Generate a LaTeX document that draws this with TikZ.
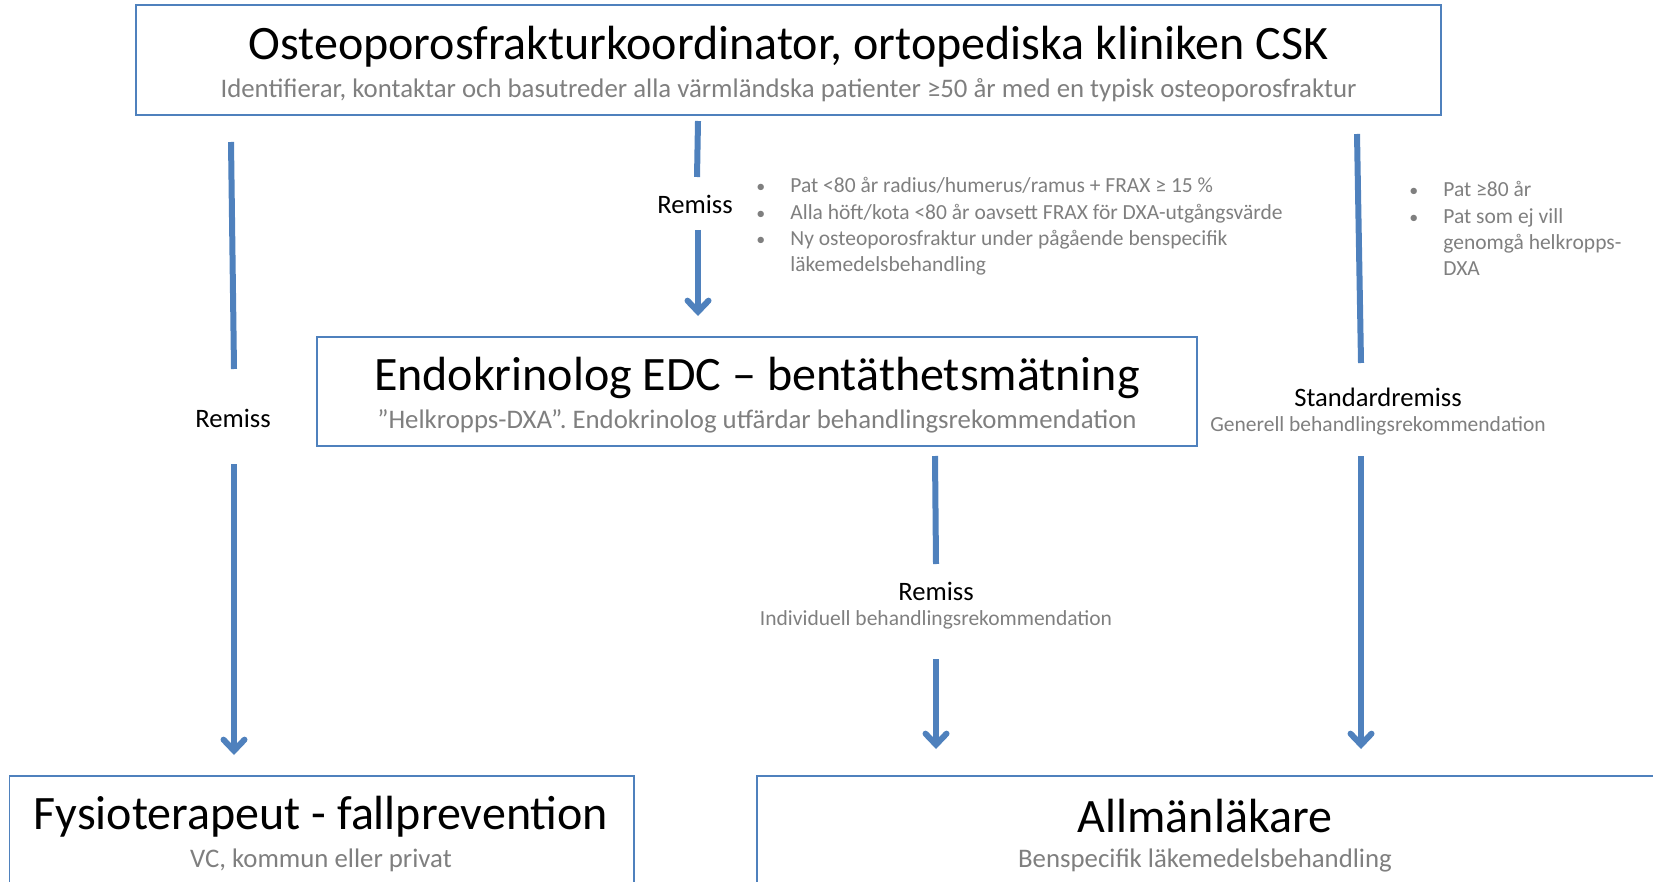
\documentclass[tikz,border=0pt]{standalone}
\usepackage{fontspec}
\setmainfont{Carlito}
\usetikzlibrary{arrows.meta}

\definecolor{offblue}{RGB}{79,129,189}
\definecolor{offgray}{RGB}{127,127,127}

\newcommand{\blt}{\makebox[17pt][l]{\textcolor{offgray}{\small\textbullet}}}
\newcommand{\bltgap}{\hspace*{17pt}}

\tikzset{
  box/.style={draw=offblue, line width=0.8pt, inner sep=0pt},
  head/.style={font=\fontsize{24}{28}\selectfont, text=black},
  sub/.style={font=\fontsize{13.4}{16}\selectfont, text=offgray},
  remiss/.style={font=\fontsize{13.3}{16}\selectfont, text=black},
  subsmall/.style={font=\fontsize{10.75}{13}\selectfont, text=offgray},
  bullets/.style={font=\fontsize{10.75}{13.2}\selectfont, text=offgray, align=left, anchor=north west, inner sep=0pt},
  flow/.style={draw=offblue, line width=3pt},
  flowarrow/.style={flow, -{Straight Barb[length=5.5pt,width=10.5pt,line cap=round]}}
}

\begin{document}
\begin{tikzpicture}[x=0.5pt,y=-0.5pt]
    \useasboundingbox (0,0) rectangle (1653,882);
    \clip (0,0) rectangle (1653,882);

    % boxes
    \node[box, minimum width=652.5pt, minimum height=55pt] (osteo) at (788.5,60) {};
    \node[box, minimum width=440pt, minimum height=54.5pt] (endo) at (757,391.5) {};
    \node[box, minimum width=312.25pt, minimum height=62pt] (fysio) at (321.75,838) {};
    \node[box, minimum width=471.5pt, minimum height=62pt] (allm) at (1228.5,838) {};

    % box texts
    \node[head] (osteot) at (788.5,47) {Osteoporosfrakturkoordinator, ortopediska kliniken CSK};
    \node[sub] (osteos) at (788.5,90) {Identifierar, kontaktar och basutreder alla värmländska patienter ≥50 år med en typisk osteoporosfraktur};
    \node[head] (endot) at (757,378) {Endokrinolog EDC – bentäthetsmätning};
    \node[sub] (endos) at (757,421) {”Helkropps-DXA”. Endokrinolog utfärdar behandlingsrekommendation};
    \node[head] (fysiot) at (321,817) {Fysioterapeut - fallprevention};
    \node[sub] (fysios) at (321,860) {VC, kommun eller privat};
    \node[head] (allmt) at (1205,816) {Allmänläkare};
    \node[sub] (allms) at (1205,860) {Benspecifik läkemedelsbehandling};

    % labels on the arrows
    \node[remiss] (remL) at (233,418) {Remiss};
    \node[remiss] (remM) at (695,204) {Remiss};
    \node[remiss] (remB) at (936,591) {Remiss};
    \node[subsmall] (remBs) at (936,620) {Individuell behandlingsrekommendation};
    \node[remiss] (std) at (1378,397) {Standardremiss};
    \node[subsmall] (stds) at (1378,426) {Generell behandlingsrekommendation};

    \node[bullets] (critM) at (756,177) {\blt Pat <80 år radius/humerus/ramus + FRAX ≥ 15 \%\\
      \blt Alla höft/kota <80 år oavsett FRAX för DXA-utgångsvärde\\
      \blt Ny osteoporosfraktur under pågående benspecifik\\
      \bltgap läkemedelsbehandling};
    \node[bullets] (critR) at (1409,181) {\blt Pat ≥80 år\\
      \blt Pat som ej vill\\
      \bltgap genomgå helkropps-\\
      \bltgap DXA};

    % arrow ends
    \coordinate (l1) at (231,142);  \coordinate (l2) at (234,369);
    \coordinate (l3) at (234,464);  \coordinate (l4) at (234,755);
    \coordinate (m1) at (698,121);  \coordinate (m2) at (697,177);
    \coordinate (m3) at (698,230);  \coordinate (m4) at (698,316);
    \coordinate (b1) at (935,456);  \coordinate (b2) at (936,564);
    \coordinate (b3) at (936,659);  \coordinate (b4) at (936,749);
    \coordinate (r1) at (1357,134); \coordinate (r2) at (1361,363);
    \coordinate (r3) at (1361,456); \coordinate (r4) at (1361,749);

    \draw[flow] (l1) -- (l2);
    \draw[flowarrow] (l3) -- (l4);
    \draw[flow] (m1) -- (m2);
    \draw[flowarrow] (m3) -- (m4);
    \draw[flow] (b1) -- (b2);
    \draw[flowarrow] (b3) -- (b4);
    \draw[flow] (r1) -- (r2);
    \draw[flowarrow] (r3) -- (r4);
\end{tikzpicture}
\end{document}
